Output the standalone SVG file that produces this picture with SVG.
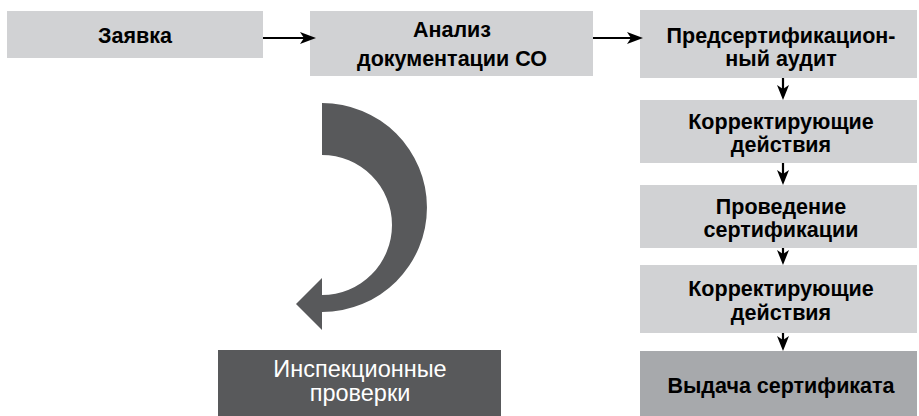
<svg xmlns="http://www.w3.org/2000/svg" width="919" height="416" viewBox="0 0 919 416">
<defs>
<style>
.box{fill:#d1d2d4}
.boxd{fill:#a7a9ac}
.boxg{fill:#58595b}
.t{font-family:"Liberation Sans",Arial,sans-serif;font-weight:bold;font-size:21.5px;fill:#000;text-anchor:middle}
.tw{font-family:"Liberation Sans",Arial,sans-serif;font-size:23.5px;fill:#fff;text-anchor:middle}
.ln{stroke:#000;stroke-width:2.2;fill:none}
.hd{fill:#000}
</style>
</defs>
<rect width="919" height="416" fill="#fff"/>
<g id="n1"><rect class="box" x="7" y="11" width="256" height="47"/><text class="t" x="135" y="43">Заявка</text></g>
<g id="n2"><rect class="box" x="310" y="11" width="283" height="65"/><text class="t" x="452" y="37">Анализ</text><text class="t" x="452" y="66">документации СО</text></g>
<g id="n3"><rect class="box" x="640" y="10" width="277" height="68"/><text class="t" x="781" y="43">Предсертификацион-</text><text class="t" x="781" y="66">ный аудит</text></g>
<g id="n4"><rect class="box" x="640" y="100" width="277" height="63"/><text class="t" x="781" y="129">Корректирующие</text><text class="t" x="781" y="152">действия</text></g>
<g id="n5"><rect class="box" x="640" y="185" width="277" height="63"/><text class="t" x="781" y="214">Проведение</text><text class="t" x="781" y="237">сертификации</text></g>
<g id="n6"><rect class="box" x="640" y="265" width="277" height="68"/><text class="t" x="781" y="296">Корректирующие</text><text class="t" x="781" y="320">действия</text></g>
<g id="n7"><rect class="boxd" x="640" y="351" width="277" height="65"/><text class="t" x="781" y="393">Выдача сертификата</text></g>
<g id="n8"><rect class="boxg" x="218" y="350" width="283" height="66"/><text class="tw" x="360" y="377">Инспекционные</text><text class="tw" x="360" y="401">проверки</text></g>
<g id="loop"><path fill="#58595b" d="M322,103 A105,104.5 0 0 1 322,312 L322,330 L296,304 L322,278 L322,295 A70,70 0 0 0 322,155 Z"/></g>
<g id="connectors">
<line class="ln" x1="263" y1="38" x2="306" y2="38"/>
<polygon class="hd" points="316,38 300,32 304,38 300,44"/>
<line class="ln" x1="593" y1="38" x2="633" y2="38"/>
<polygon class="hd" points="643,38 627,32 631,38 627,44"/>
<line class="ln" x1="783" y1="78" x2="783" y2="90"/>
<polygon class="hd" points="783,100 777,85 783,89 789,85"/>
<line class="ln" x1="783" y1="163" x2="783" y2="175"/>
<polygon class="hd" points="783,185 777,170 783,174 789,170"/>
<line class="ln" x1="783" y1="248" x2="783" y2="255"/>
<polygon class="hd" points="783,265 777,250 783,254 789,250"/>
<line class="ln" x1="783" y1="333" x2="783" y2="341"/>
<polygon class="hd" points="783,351 777,336 783,340 789,336"/>
</g>
</svg>
